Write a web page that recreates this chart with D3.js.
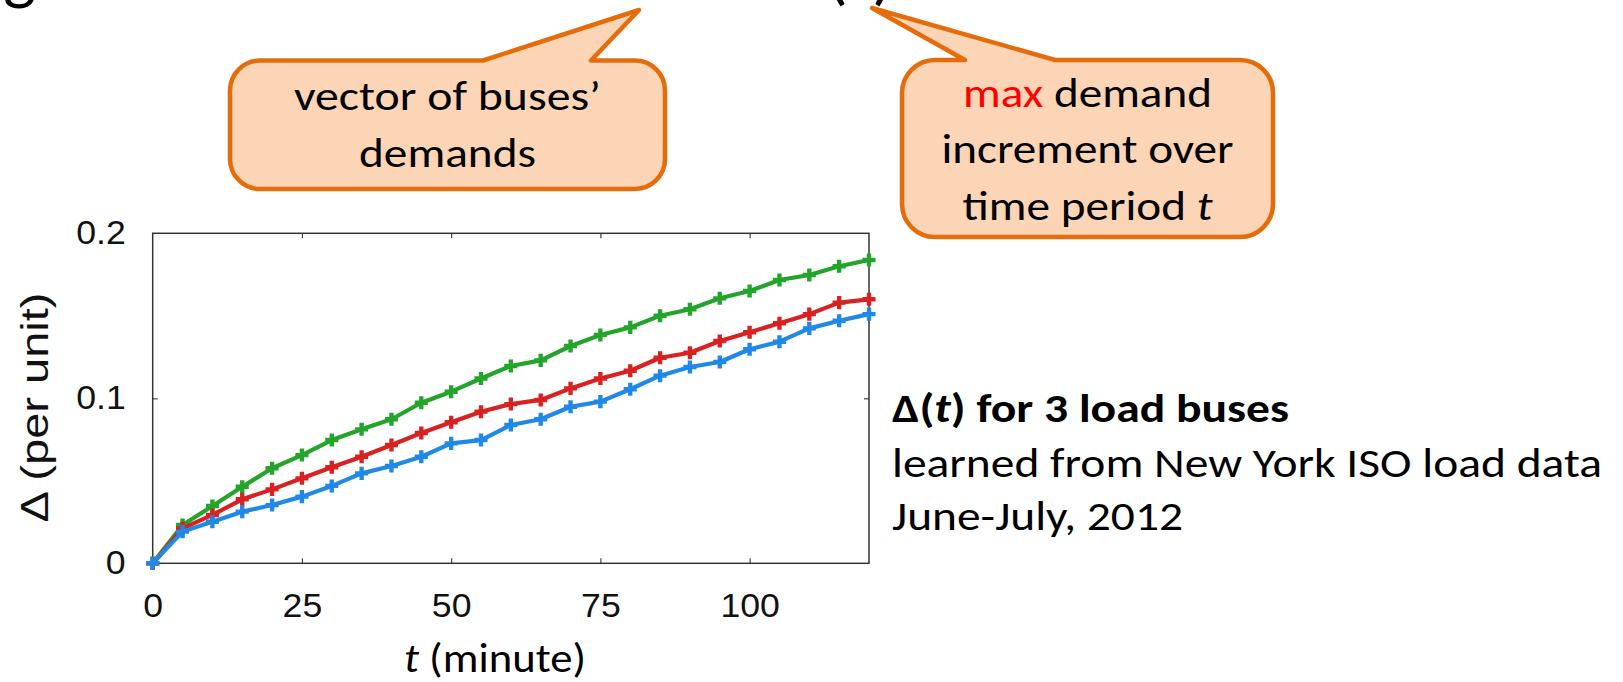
<!DOCTYPE html>
<html>
<head>
<meta charset="utf-8">
<script src="https://cdn.jsdelivr.net/npm/d3@7"></script>
<style>
  html, body { margin: 0; padding: 0; background: #fff; }
  svg { display: block; }
</style>
</head>
<body>
<svg id="chart" width="1623" height="682"></svg>
<script>
// Sampling instants (minutes) and the learned max demand increments per bus
const minutes = [0, 5, 10, 15, 20, 25, 30, 35, 40, 45, 50, 55, 60, 65, 70, 75, 80, 85, 90, 95, 100, 105, 110, 115, 120];
const busGreen = [0, 0.0232, 0.0347, 0.0464, 0.0576, 0.0656, 0.0747, 0.0812, 0.0873, 0.0973, 0.104, 0.112, 0.1196, 0.123, 0.1317, 0.1384, 0.143, 0.150, 0.154, 0.1606, 0.165, 0.1717, 0.1747, 0.180, 0.1838];
const busRed = [0, 0.0212, 0.0293, 0.0388, 0.0448, 0.0515, 0.0582, 0.0646, 0.0717, 0.079, 0.0855, 0.0919, 0.0965, 0.099, 0.106, 0.112, 0.1167, 0.1246, 0.1276, 0.1347, 0.140, 0.1455, 0.151, 0.158, 0.160];
const busBlue = [0, 0.0192, 0.0252, 0.0313, 0.0353, 0.0404, 0.0469, 0.0545, 0.059, 0.0646, 0.0727, 0.0747, 0.0838, 0.0873, 0.0949, 0.098, 0.1055, 0.1137, 0.119, 0.122, 0.1297, 0.1343, 0.1424, 0.147, 0.151];
const xTicks = [0, 25, 50, 75, 100];
const yTicks = [0, 0.1, 0.2];
const yTickLabels = ["0", "0.1", "0.2"];

const svg = d3.select("#chart");
const slideFont = "Carlito, Lato, 'Open Sans', sans-serif";
const plotFont = "'Liberation Sans', Arial, sans-serif";
const orange = "#E46C0A", peach = "#FBD5B5";

// fragments of the heading line that sits above the visible area
svg.append("text").attr("x", 3).attr("y", -3)
  .attr("font-family", slideFont).attr("font-size", 70).attr("fill", "#000").text("g");
svg.append("text").attr("x", 826).attr("y", -3)
  .attr("font-family", slideFont).attr("font-size", 68).attr("fill", "#000")
  .attr("textLength", 68).attr("lengthAdjust", "spacingAndGlyphs").text("(t)");

// ---- plot ----
const x = d3.scaleLinear().domain([0, 120]).range([152.7, 869]);
const y = d3.scaleLinear().domain([0, 0.2]).range([563.3, 233.3]);

const tick = 5;
const gx = svg.append("g").attr("transform", `translate(0,${y(0)})`)
  .call(d3.axisBottom(x).tickValues(xTicks).tickSizeInner(-tick).tickSizeOuter(0).tickPadding(30));
const gxt = svg.append("g").attr("transform", `translate(0,${y(0.2)})`)
  .call(d3.axisTop(x).tickValues(xTicks.slice(1)).tickSizeInner(-tick).tickSizeOuter(0).tickFormat(""));
const gy = svg.append("g").attr("transform", `translate(${x(0)},0)`)
  .call(d3.axisLeft(y).tickValues(yTicks).tickSizeInner(-tick).tickSizeOuter(0).tickPadding(27)
    .tickFormat((d, i) => yTickLabels[i]));
const gyr = svg.append("g").attr("transform", `translate(${x(120)},0)`)
  .call(d3.axisRight(y).tickValues([0.1]).tickSizeInner(-tick).tickSizeOuter(0).tickFormat(""));

[gx, gxt, gy, gyr].forEach(g => {
  g.select(".domain").remove();
  g.selectAll(".tick line").attr("stroke", "#444").attr("stroke-width", 1.2);
  g.selectAll("text").attr("font-family", plotFont).attr("font-size", 33).attr("fill", "#111");
});
gx.select(".tick line").remove();
gy.selectAll(".tick").filter(d => d === 0 || d === 0.2).select("line").remove();
// the plot lettering is set a touch wider than the regular face
[gx, gy].forEach(g => g.selectAll("text").each(function () {
  const w = this.getComputedTextLength();
  d3.select(this).attr("textLength", w * 1.08).attr("lengthAdjust", "spacingAndGlyphs");
}));

svg.append("rect")
  .attr("x", x(0)).attr("y", y(0.2))
  .attr("width", x(120) - x(0)).attr("height", y(0) - y(0.2))
  .attr("fill", "none").attr("stroke", "#333").attr("stroke-width", 1.5);

const series = [
  { name: "bus 1", color: "#22A52A", values: busGreen },
  { name: "bus 2", color: "#DA2122", values: busRed },
  { name: "bus 3", color: "#2088E6", values: busBlue }
];
const line = d3.line().x(d => x(d[0])).y(d => y(d[1]));
const cross = d3.symbol(d3.symbolCross, 95);

series.forEach(s => {
  const pts = minutes.map((m, i) => [m, s.values[i]]);
  const g = svg.append("g");
  g.append("path").attr("d", line(pts)).attr("fill", "none")
    .attr("stroke", s.color).attr("stroke-width", 4.2).attr("stroke-linejoin", "round");
  g.selectAll("path.mk").data(pts).join("path").attr("class", "mk")
    .attr("transform", d => `translate(${x(d[0])},${y(d[1])})`)
    .attr("d", cross).attr("fill", s.color);
});

// axis titles
svg.append("text")
  .attr("transform", `translate(48,${407.5}) rotate(-90)`)
  .attr("text-anchor", "middle")
  .attr("font-family", plotFont).attr("font-size", 39).attr("fill", "#111")
  .attr("textLength", 230).attr("lengthAdjust", "spacingAndGlyphs")
  .text("Δ (per unit)");

const xt = svg.append("text").attr("x", 495).attr("y", 672).attr("text-anchor", "middle")
  .attr("font-family", slideFont).attr("font-size", 41).attr("fill", "#000")
  .attr("textLength", 182).attr("lengthAdjust", "spacingAndGlyphs");
xt.append("tspan").attr("font-style", "italic").text("t");
xt.append("tspan").text(" (minute)");

// ---- callouts ----
function calloutPath(x0, y0, x1, y1, r, tail) {
  const p = d3.path();
  p.moveTo(x0 + r, y0);
  p.lineTo(tail[0], y0);
  p.lineTo(tail[1][0], tail[1][1]);
  p.lineTo(tail[2], y0);
  p.lineTo(x1 - r, y0);
  p.arcTo(x1, y0, x1, y0 + r, r);
  p.lineTo(x1, y1 - r);
  p.arcTo(x1, y1, x1 - r, y1, r);
  p.lineTo(x0 + r, y1);
  p.arcTo(x0, y1, x0, y1 - r, r);
  p.lineTo(x0, y0 + r);
  p.arcTo(x0, y0, x0 + r, y0, r);
  p.closePath();
  return p.toString();
}

const callouts = [
  { box: [230, 60.5, 665, 189], r: 30, tail: [483, [639, 10], 591],
    lines: [{ y: 110, w: 307, parts: [["vector of buses’", "#000", "normal"]] },
            { y: 167, w: 177, parts: [["demands", "#000", "normal"]] }] },
  { box: [902, 60, 1273, 237], r: 33, tail: [965, [872, 8], 1055],
    lines: [{ y: 107, w: 249, parts: [["max", "#FF0000", "normal"], [" demand", "#000", "normal"]] },
            { y: 163, w: 292, parts: [["increment over", "#000", "normal"]] },
            { y: 220, w: 250, parts: [["time period ", "#000", "normal"], ["t", "#000", "italic"]] }] }
];

callouts.forEach(c => {
  const [x0, y0, x1, y1] = c.box;
  svg.append("path").attr("d", calloutPath(x0, y0, x1, y1, c.r, c.tail))
    .attr("fill", peach).attr("stroke", orange).attr("stroke-width", 4.5)
    .attr("stroke-linejoin", "round");
  c.lines.forEach(l => {
    const t = svg.append("text").attr("x", (x0 + x1) / 2).attr("y", l.y)
      .attr("text-anchor", "middle").attr("font-family", slideFont).attr("font-size", 41)
      .attr("textLength", l.w).attr("lengthAdjust", "spacingAndGlyphs");
    l.parts.forEach(p => t.append("tspan").attr("fill", p[1]).attr("font-style", p[2]).text(p[0]));
  });
});

// ---- caption beside the plot ----
const cap = svg.append("g").attr("font-family", slideFont).attr("font-size", 40).attr("fill", "#000");
const c1 = cap.append("text").attr("x", 892).attr("y", 422).attr("font-weight", "bold")
  .attr("textLength", 397).attr("lengthAdjust", "spacingAndGlyphs");
c1.append("tspan").text("Δ(");
c1.append("tspan").attr("font-style", "italic").text("t");
c1.append("tspan").text(") for 3 load buses");
cap.append("text").attr("x", 892).attr("y", 477)
  .attr("textLength", 710).attr("lengthAdjust", "spacingAndGlyphs")
  .text("learned from New York ISO load data");
cap.append("text").attr("x", 892).attr("y", 530)
  .attr("textLength", 291).attr("lengthAdjust", "spacingAndGlyphs")
  .text("June-July, 2012");
</script>
</body>
</html>
